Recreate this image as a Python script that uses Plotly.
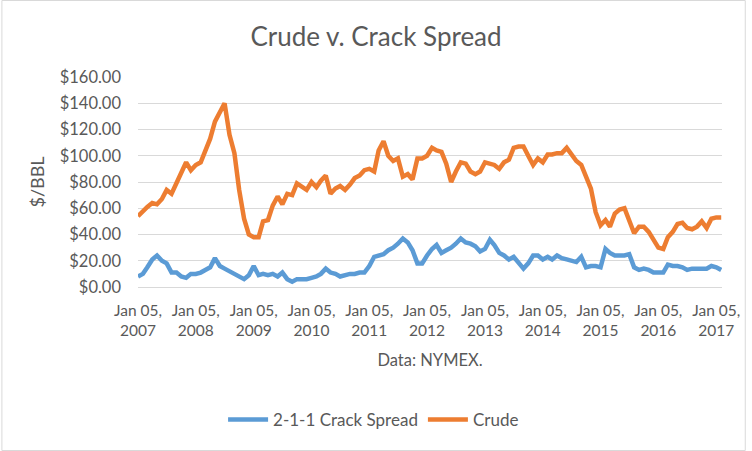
import plotly.graph_objects as go

years = list(range(2007, 2018))
months = [f"{y}-{m:02d}-05" for y in range(2007, 2017) for m in range(1, 13)] + ["2017-01-05", "2017-02-05"]

crude = [
    54, 58, 61, 64, 63, 67, 74, 71, 79, 87, 95, 89,
    93, 95, 104, 113, 126, 134, 140, 116, 102, 74, 52, 40,
    38, 38, 50, 51, 62, 69, 63, 71, 70, 79, 76, 74,
    80, 76, 81, 85, 71, 75, 77, 74, 78, 83, 85, 89,
    90, 88, 104, 111, 100, 96, 98, 84, 86, 82, 98, 98,
    100, 106, 104, 103, 94, 80, 88, 95, 94, 88, 86, 88,
    95, 94, 93, 90, 95, 97, 106, 107, 107, 100, 93, 98,
    95, 101, 101, 102, 102, 106, 101, 96, 93, 83, 75, 57,
    47, 51, 46, 56, 59, 60, 51, 41, 46, 46, 42, 36,
    30, 29, 38, 42, 48, 49, 45, 44, 46, 50, 45, 52,
    53, 53,
]

crack = [
    8, 10, 15, 21, 24, 20, 18, 11, 11, 8, 7, 10,
    10, 11, 13, 15, 22, 16, 14, 12, 10, 8, 6, 9,
    16, 9, 10, 9, 10, 8, 11, 6, 4, 6, 6, 6,
    7, 8, 10, 14, 11, 10, 8, 9, 10, 10, 11, 11,
    16, 23, 24, 25, 28, 30, 33, 37, 34, 28, 18, 18,
    24, 29, 32, 26, 28, 30, 33, 37, 34, 33, 31, 27,
    29, 36, 32, 26, 24, 21, 23, 18, 14, 18, 24, 24,
    21, 23, 21, 24, 22, 21, 20, 19, 23, 15, 16, 16,
    15, 29, 26, 24, 24, 24, 25, 15, 13, 14, 13, 11,
    11, 11, 17, 16, 16, 15, 13, 14, 14, 14, 14, 16,
    15, 13,
]

y_ticks = [0, 20, 40, 60, 80, 100, 120, 140, 160]
x_tickvals = [f"{y}-01-05" for y in years]
x_ticktext = [f"Jan 05,<br>{y}" for y in years]

FONT = "Lato"
GREY = "#595959"

fig = go.Figure()
fig.add_trace(go.Scatter(x=months, y=crack, mode="lines", name="2-1-1 Crack Spread",
                         line=dict(color="#5B9BD5", width=4.5)))
fig.add_trace(go.Scatter(x=months, y=crude, mode="lines", name="Crude",
                         line=dict(color="#ED7D31", width=4.5)))

fig.update_layout(
    width=752, height=451,
    margin=dict(l=138, r=24, t=77, b=164),
    paper_bgcolor="white", plot_bgcolor="white",
    font=dict(family=FONT, color=GREY, size=15),
    title=dict(text="Crude v. Crack Spread", x=0.5, xanchor="center",
               y=1 - 37 / 451, yref="container", yanchor="middle",
               font=dict(size=26, color=GREY, family=FONT)),
    showlegend=True,
    legend=dict(orientation="h", x=(376 - 138) / 590, xanchor="center",
                y=(287 - 420) / 210, yanchor="middle",
                font=dict(size=17, color=GREY), itemwidth=40, bgcolor="rgba(0,0,0,0)"),
    hovermode=False,
)
fig.update_xaxes(type="date", range=["2007-01-05", "2017-02-10"],
                 tickvals=x_tickvals, ticktext=x_ticktext,
                 showgrid=False, showline=True, linecolor="#d9d9d9", linewidth=1,
                 ticks="", tickfont=dict(size=15.5, color=GREY), ticklabelstandoff=9,
                 title=dict(text="Data: NYMEX.", font=dict(size=16.5, color=GREY), standoff=16))
fig.update_yaxes(range=[0, 160], tickvals=y_ticks,
                 ticktext=[f"${v:.2f}" for v in y_ticks],
                 showgrid=True, gridcolor="#d9d9d9", gridwidth=1, zeroline=False,
                 ticks="", tickfont=dict(size=16.5, color=GREY), ticklabelstandoff=16,
                 title=dict(text="$/BBL", font=dict(size=18, color=GREY), standoff=10))

fig.add_shape(type="rect", xref="paper", yref="paper",
              x0=(0.5 - 138) / 590, x1=(751.5 - 138) / 590,
              y0=(287 - 450.5) / 210, y1=(287 - 0.5) / 210,
              line=dict(color="#d9d9d9", width=1), fillcolor="rgba(0,0,0,0)", layer="below")

fig.write_html("out.html", config={"displayModeBar": False},
               post_script="document.body.style.margin='0';document.body.style.overflow='hidden';document.documentElement.style.overflow='hidden';")
